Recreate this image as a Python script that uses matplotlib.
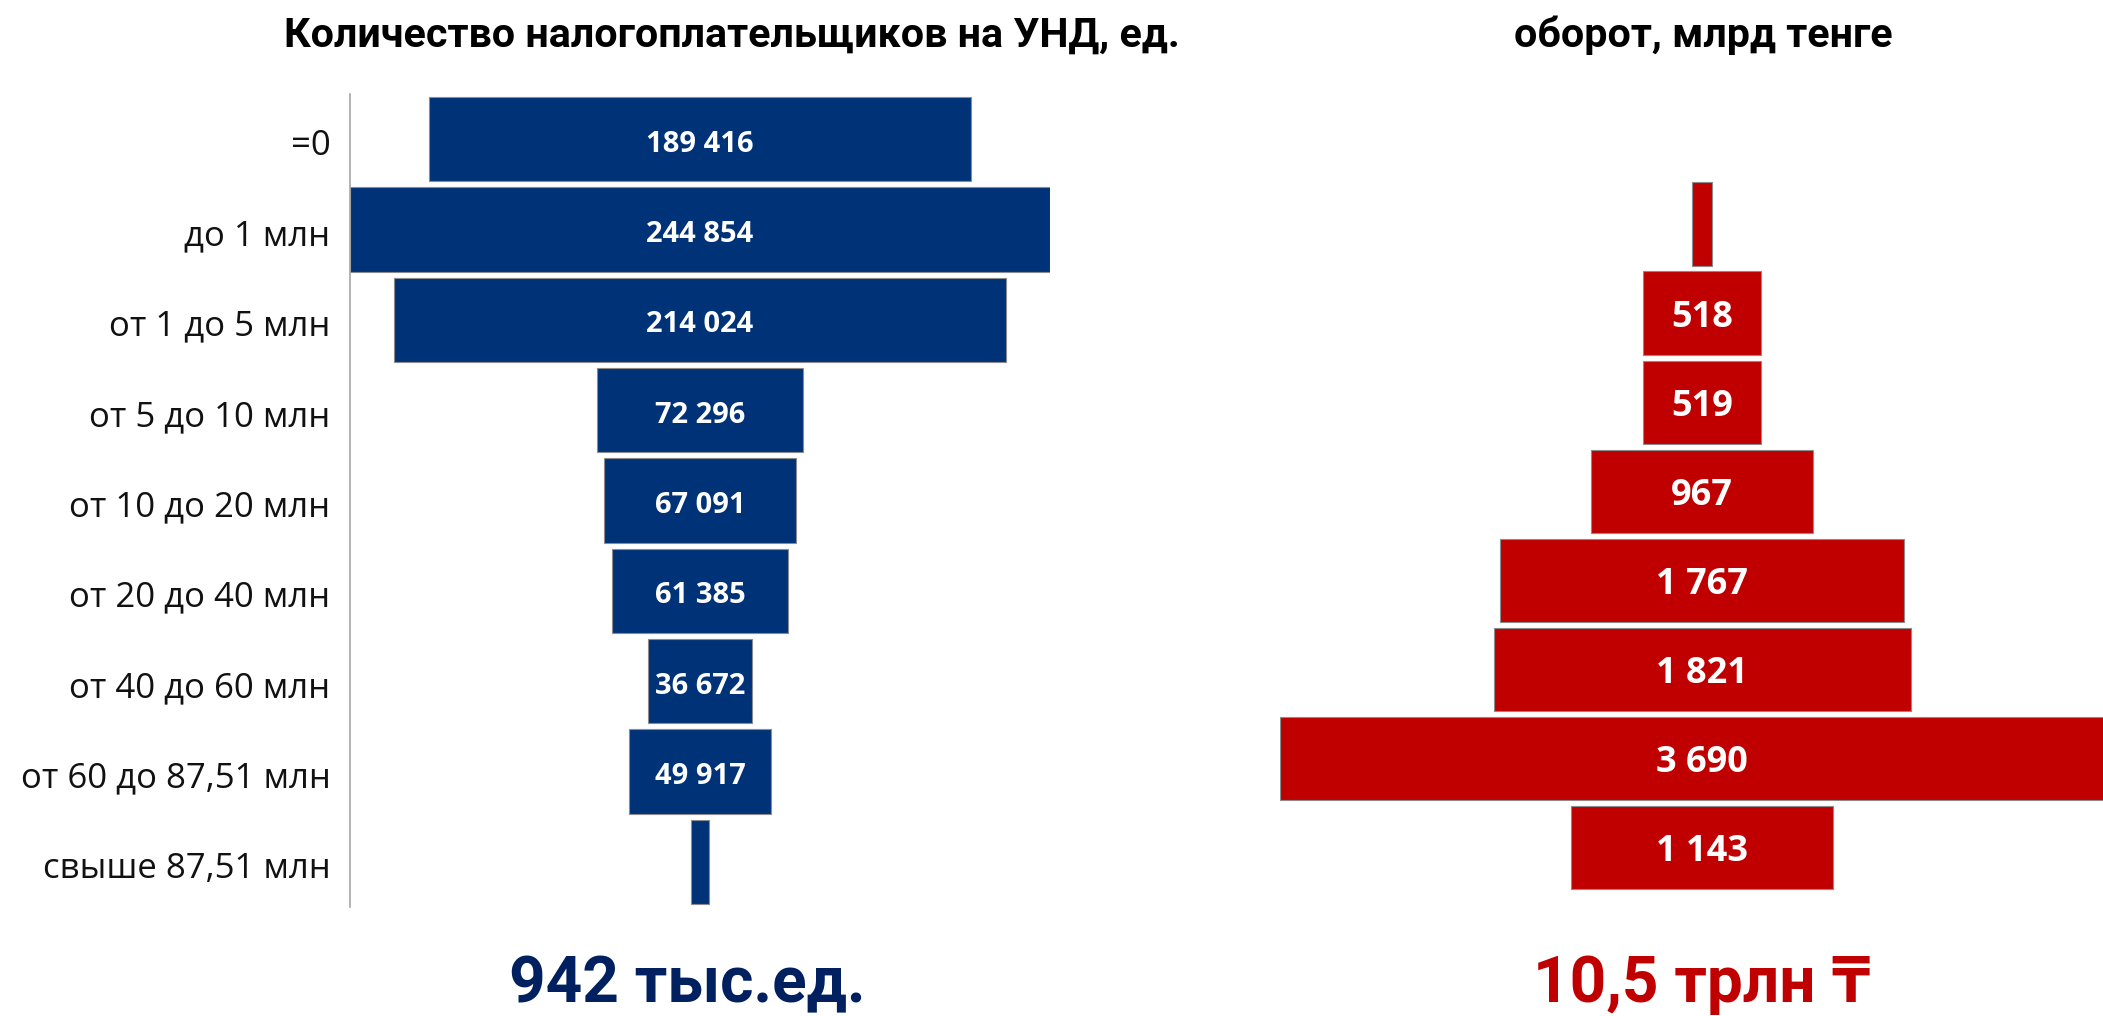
import matplotlib
matplotlib.use("Agg")
import matplotlib.pyplot as plt
from matplotlib.transforms import ScaledTranslation

# -----------------------------
# Data
# -----------------------------
categories = [
    "=0",
    "до 1 млн",
    "от 1 до 5 млн",
    "от 5 до 10 млн",
    "от 10 до 20 млн",
    "от 20 до 40 млн",
    "от 40 до 60 млн",
    "от 60 до 87,51 млн",
    "свыше 87,51 млн",
]
taxpayers = [189416, 244854, 214024, 72296, 67091, 61385, 36672, 49917, 6400]

# turnover has no "=0" row
turnover_categories = categories[1:]
turnover = [90, 518, 519, 967, 1767, 1821, 3690, 1143]

left_title = "Количество налогоплательщиков на УНД, ед."
right_title = "оборот, млрд тенге"
left_total = "942 тыс.ед."
right_total = "10,5 трлн ₸"

BLUE = "#003278"
DARK_BLUE = "#002060"
RED = "#C00000"
EDGE = "#8c8c8c"

narrow = ["Roboto", "DejaVu Sans"]
label_font = ["Open Sans", "DejaVu Sans"]

fig = plt.figure(figsize=(21.03, 10.16), dpi=100)
down = lambda pt: ScaledTranslation(0, -pt / 72, fig.dpi_scale_trans)


def fmt(v):
    return f"{v:,}".replace(",", " ")


def funnel(ax, cats, values, color, size):
    y = list(range(len(cats)))
    ax.barh(y, values, left=[-v / 2 for v in values], height=0.935,
            color=color, edgecolor=EDGE, linewidth=0.8)
    top = max(values)
    for yi, v in zip(y, values):
        if v < 0.05 * top:
            continue
        ax.text(0, yi, fmt(v), ha="center", va="center", color="white",
                fontsize=size, fontweight="bold", family=label_font,
                transform=ax.transData + down(3.5))
    ax.set_ylim(len(cats) - 0.5, -0.5)
    for s in ["top", "right", "bottom"]:
        ax.spines[s].set_visible(False)
    ax.set_xticks([])


# left funnel: taxpayers
ax1 = fig.add_axes([350 / 2103, 1 - 907 / 1016, 700 / 2103, 813 / 1016])
funnel(ax1, categories, taxpayers, BLUE, 21)
half = max(taxpayers) / 2
ax1.set_xlim(-half, half)
ax1.set_yticks(range(len(categories)))
ax1.set_yticklabels(categories, fontsize=25, family=label_font, color="#111111")
ax1.tick_params(axis="y", length=0, pad=14)
for lab in ax1.get_yticklabels():
    lab.set_transform(lab.get_transform() + down(2))
ax1.spines["left"].set_color("#a6a6a6")
ax1.spines["left"].set_linewidth(1.2)

# right funnel: turnover
ax2 = fig.add_axes([1280 / 2103, 1 - 892 / 1016, 823 / 2103, 712.5 / 1016])
funnel(ax2, turnover_categories, turnover, RED, 26)
ax2.set_xlim(-1843, 1751)
ax2.set_yticks([])
ax2.spines["left"].set_visible(False)

# titles
fig.text(732 / 2103, 1 - 47 / 1016, left_title, ha="center", va="baseline",
         fontsize=29.7, fontweight="bold", family=narrow)
fig.text(1703 / 2103, 1 - 47 / 1016, right_title, ha="center", va="baseline",
         fontsize=29.7, fontweight="bold", family=narrow)

# totals
fig.text(687 / 2103, 1 - 1002 / 1016, left_total, ha="center", va="baseline",
         fontsize=46, fontweight="bold", family=narrow, color=DARK_BLUE)
fig.text(1702 / 2103, 1 - 1002 / 1016, right_total, ha="center", va="baseline",
         fontsize=46, fontweight="bold", family=narrow, color=RED)

fig.savefig("out.png", dpi=100)
